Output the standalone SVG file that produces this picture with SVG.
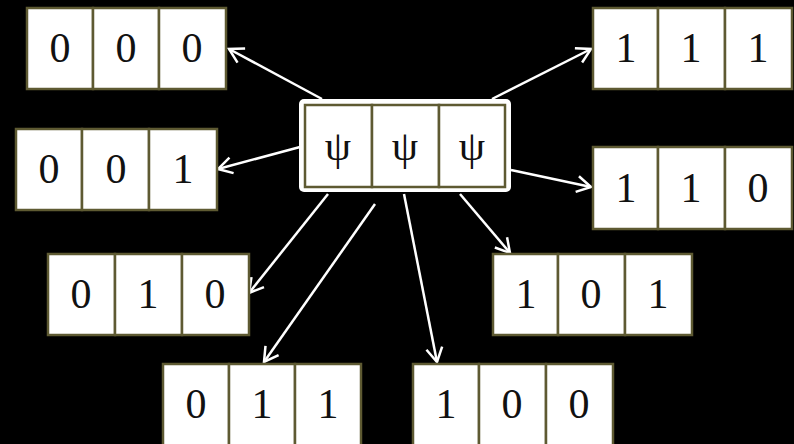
<svg xmlns="http://www.w3.org/2000/svg" width="794" height="444" viewBox="0 0 794 444">
<defs>
<style>
.cell{fill:#ffffff;stroke:#5e5a32;stroke-width:2.5}
.t{font-family:"Liberation Serif","Times New Roman",serif;font-size:42px;fill:#111;text-anchor:middle}
.c{stroke:#ffffff;stroke-width:2.5;fill:none}
</style>
<marker id="ah" markerUnits="userSpaceOnUse" markerWidth="30" markerHeight="30" viewBox="-15 -15 30 30" refX="0" refY="0" orient="auto">
<path d="M-14,-8 L0,0 L-14,8" fill="none" stroke="#ffffff" stroke-width="2.5"/>
</marker>
</defs>
<rect x="0" y="0" width="794" height="444" fill="#000000"/>
<g id="connectors">
<line class="c" x1="322" y1="99" x2="229" y2="49" marker-end="url(#ah)"/>
<line class="c" x1="492" y1="99" x2="591" y2="49" marker-end="url(#ah)"/>
<line class="c" x1="300" y1="147" x2="218" y2="169" marker-end="url(#ah)"/>
<line class="c" x1="511" y1="170" x2="591" y2="187" marker-end="url(#ah)"/>
<line class="c" x1="328" y1="194" x2="249" y2="293" marker-end="url(#ah)"/>
<line class="c" x1="375" y1="204" x2="264" y2="362" marker-end="url(#ah)"/>
<line class="c" x1="404" y1="194" x2="437" y2="362" marker-end="url(#ah)"/>
<line class="c" x1="460" y1="194" x2="510" y2="253" marker-end="url(#ah)"/>
</g>
<g id="node-psi">
<rect x="299" y="99" width="212" height="93" rx="5" fill="#ffffff"/>
<rect class="cell" x="305" y="105" width="67" height="82"/>
<rect class="cell" x="372" y="105" width="67" height="82"/>
<rect class="cell" x="439" y="105" width="66" height="82"/>
<text class="t" x="338" y="160">ψ</text>
<text class="t" x="405" y="160">ψ</text>
<text class="t" x="472" y="160">ψ</text>
</g>
<g id="node-000">
<rect class="cell" x="27" y="8" width="66" height="81"/>
<rect class="cell" x="93" y="8" width="66" height="81"/>
<rect class="cell" x="159" y="8" width="67" height="81"/>
<text class="t" x="60" y="62">0</text>
<text class="t" x="126" y="62">0</text>
<text class="t" x="192" y="62">0</text>
</g>
<g id="node-111">
<rect class="cell" x="593" y="8" width="65" height="81"/>
<rect class="cell" x="658" y="8" width="67" height="81"/>
<rect class="cell" x="725" y="8" width="67" height="81"/>
<text class="t" x="626" y="62">1</text>
<text class="t" x="691" y="62">1</text>
<text class="t" x="758" y="62">1</text>
</g>
<g id="node-001">
<rect class="cell" x="16" y="129" width="66" height="81"/>
<rect class="cell" x="82" y="129" width="67" height="81"/>
<rect class="cell" x="149" y="129" width="68" height="81"/>
<text class="t" x="49" y="183">0</text>
<text class="t" x="116" y="183">0</text>
<text class="t" x="183" y="183">1</text>
</g>
<g id="node-110">
<rect class="cell" x="593" y="147" width="65" height="82"/>
<rect class="cell" x="658" y="147" width="67" height="82"/>
<rect class="cell" x="725" y="147" width="67" height="82"/>
<text class="t" x="626" y="202">1</text>
<text class="t" x="691" y="202">1</text>
<text class="t" x="758" y="202">0</text>
</g>
<g id="node-010">
<rect class="cell" x="48" y="254" width="67" height="81"/>
<rect class="cell" x="115" y="254" width="67" height="81"/>
<rect class="cell" x="182" y="254" width="67" height="81"/>
<text class="t" x="81" y="308">0</text>
<text class="t" x="148" y="308">1</text>
<text class="t" x="215" y="308">0</text>
</g>
<g id="node-101">
<rect class="cell" x="493" y="254" width="65" height="81"/>
<rect class="cell" x="558" y="254" width="67" height="81"/>
<rect class="cell" x="625" y="254" width="67" height="81"/>
<text class="t" x="526" y="308">1</text>
<text class="t" x="591" y="308">0</text>
<text class="t" x="658" y="308">1</text>
</g>
<g id="node-011">
<rect class="cell" x="163" y="364" width="66" height="82"/>
<rect class="cell" x="229" y="364" width="66" height="82"/>
<rect class="cell" x="295" y="364" width="66" height="82"/>
<text class="t" x="196" y="418">0</text>
<text class="t" x="262" y="418">1</text>
<text class="t" x="328" y="418">1</text>
</g>
<g id="node-100">
<rect class="cell" x="413" y="364" width="66" height="82"/>
<rect class="cell" x="479" y="364" width="67" height="82"/>
<rect class="cell" x="546" y="364" width="67" height="82"/>
<text class="t" x="446" y="418">1</text>
<text class="t" x="512" y="418">0</text>
<text class="t" x="579" y="418">0</text>
</g>
</svg>
